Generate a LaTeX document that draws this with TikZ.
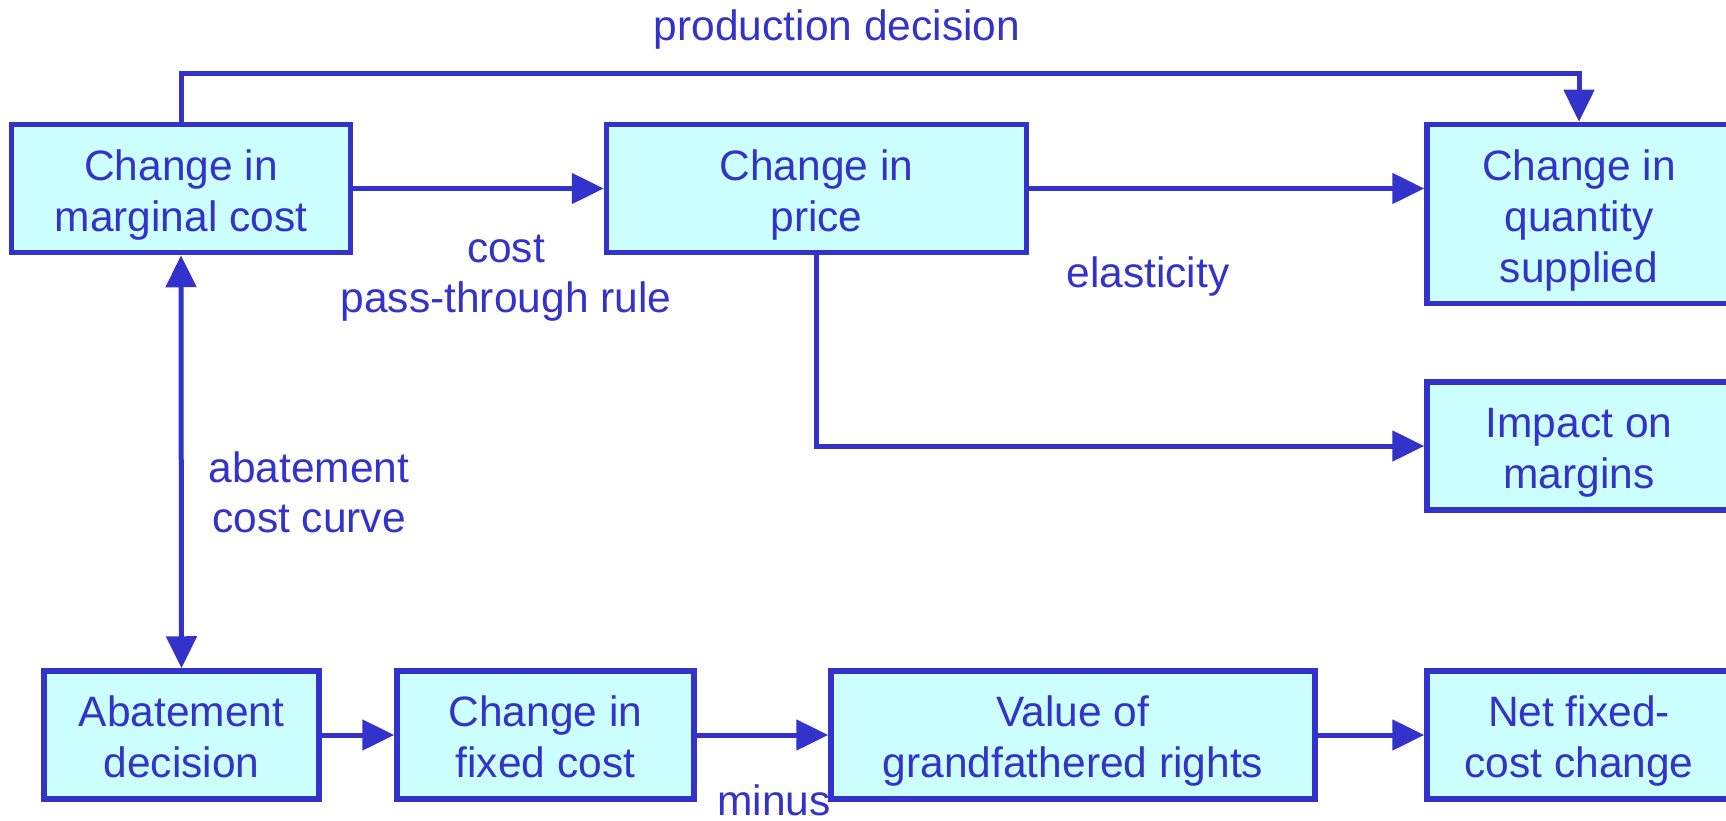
\documentclass[tikz,border=0pt]{standalone}
\usepackage{fontspec}
\setmainfont{Liberation Sans}
\usetikzlibrary{arrows.meta}
\definecolor{ink}{RGB}{51,51,204}
\definecolor{boxfill}{RGB}{204,255,255}
\newcommand\boxlift{\rule{0pt}{43pt}}
\begin{document}
\begin{tikzpicture}[x=1pt,y=-1pt,->,>={Triangle[length=32pt,width=30pt]}]
        \tikzstyle{stage}=[rectangle,line width=5.5pt,draw=ink,fill=boxfill,text=ink,align=center,minimum height=128pt,inner sep=0pt,font=\fontsize{42.5}{51}\selectfont,
          execute at end node={\rule[-9pt]{0pt}{9pt}}]
        \tikzstyle{edge}=[draw=ink,line width=5pt]
        \tikzstyle{note}=[text=ink,align=center,inner sep=0pt,font=\fontsize{42.5}{50}\selectfont]
       \useasboundingbox (0,0) rectangle (1726,821);
       \begin{scope}
         \node [stage,minimum width=339pt] (mc) at (181,188.5) {\boxlift Change in\\marginal cost};
         \node [stage,minimum width=420pt] (price) at (816.5,188.5) {\boxlift Change in\\price};
         \node [stage,minimum width=304pt,minimum height=179pt] (qty) at (1579,214) {\boxlift Change in\\quantity\\supplied};
         \node [stage,minimum width=304pt] (impact) at (1579,446) {\boxlift Impact on\\margins};
         \node [stage,minimum width=275pt] (abate) at (181.5,735) {\boxlift Abatement\\decision};
         \node [stage,minimum width=297pt] (fixed) at (545.5,735) {\boxlift Change in\\fixed cost};
         \node [stage,minimum width=484pt] (value) at (1073,735) {\boxlift Value of\\grandfathered rights};
         \node [stage,minimum width=304pt] (net) at (1579,735) {\boxlift Net fixed-\\cost change};

         \node [note] (l1) at (837,30) {production decision};
         \node [note] (l2) at (506,278) {cost\\pass-through rule};
         \node [note] (l3) at (1148,277) {elasticity};
         \node [note] (l4) at (309,492) {abatement\\cost curve};
         \node [note] (l5) at (774,800) {minus};

         \path[edge] (mc) -- (price);
         \path[edge] (price.east) -- (price.east -| qty.west);
         \path[edge] (price.south) |- (impact.west);
         \path[edge] (mc.north) -- ++(0,-48) -| (qty.north);
         \path[edge,<->] (mc.south) -- (abate.north);
         \path[edge] (abate) -- (fixed);
         \path[edge] (fixed) -- (value);
         \path[edge] (value) -- (net);
        \end{scope}
      \end{tikzpicture}
\end{document}
